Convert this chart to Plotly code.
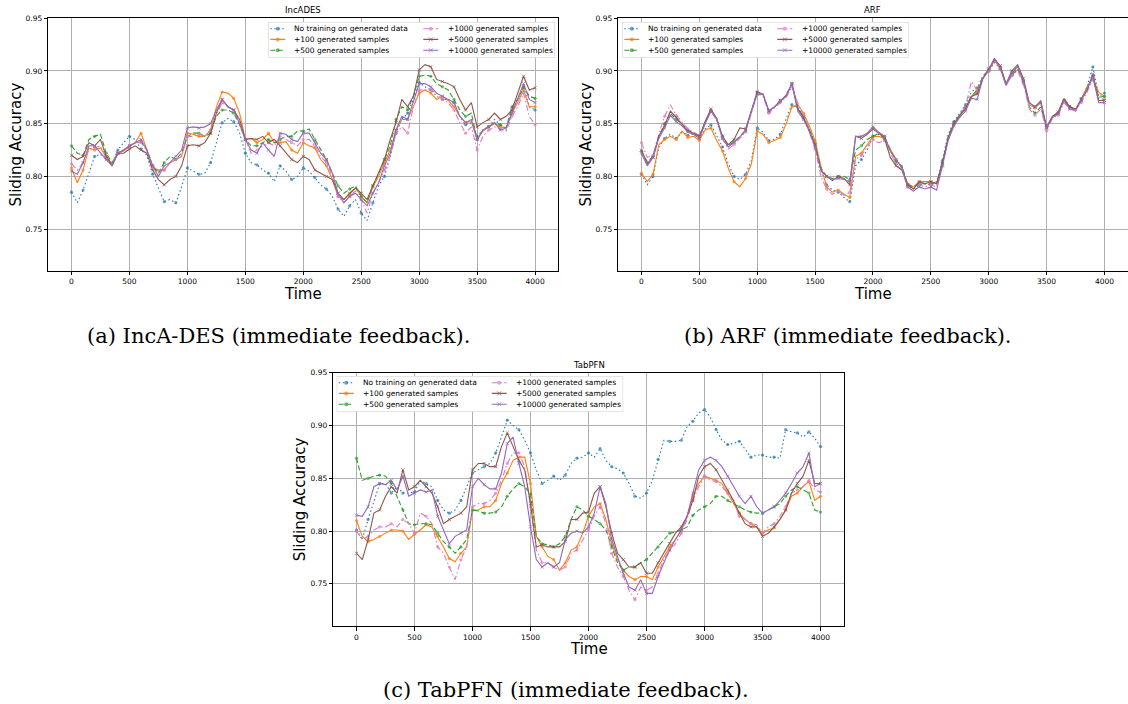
import plotly.graph_objects as go

# ---------------------------------------------------------------- data
TIME = list(range(0, 4001, 50))

SERIES_NAMES = [
    "No training on generated data",
    "+100 generated samples",
    "+500 generated samples",
    "+1000 generated samples",
    "+5000 generated samples",
    "+10000 generated samples",
]

# IncA-DES, sliding accuracy
INCADES_NO_TRAINING = [
    0.785, 0.775, 0.787, 0.803, 0.819, 0.821, 0.817, 0.812, 0.825, 0.832,
    0.838, 0.835, 0.826, 0.820, 0.802, 0.789, 0.776, 0.778, 0.775, 0.790,
    0.808, 0.805, 0.802, 0.803, 0.813, 0.832, 0.851, 0.855, 0.852, 0.841,
    0.822, 0.813, 0.811, 0.806, 0.803, 0.795, 0.810, 0.805, 0.797, 0.800,
    0.808, 0.805, 0.799, 0.792, 0.788, 0.781, 0.769, 0.762, 0.772, 0.778,
    0.765, 0.758, 0.775, 0.791, 0.800, 0.819, 0.841, 0.854, 0.860, 0.873,
    0.889, 0.885, 0.882, 0.876, 0.873, 0.873, 0.870, 0.857, 0.849, 0.851,
    0.838, 0.844, 0.847, 0.854, 0.849, 0.844, 0.863, 0.873, 0.885, 0.866,
    0.863,
]
INCADES_100 = [
    0.808, 0.794, 0.806, 0.827, 0.825, 0.827, 0.819, 0.812, 0.822, 0.824,
    0.828, 0.832, 0.841, 0.826, 0.810, 0.805, 0.806, 0.813, 0.816, 0.819,
    0.841, 0.840, 0.838, 0.838, 0.844, 0.866, 0.880, 0.879, 0.874, 0.860,
    0.835, 0.836, 0.832, 0.835, 0.841, 0.832, 0.832, 0.833, 0.825, 0.822,
    0.832, 0.829, 0.827, 0.816, 0.810, 0.797, 0.781, 0.778, 0.783, 0.789,
    0.781, 0.775, 0.790, 0.800, 0.813, 0.825, 0.844, 0.854, 0.854, 0.866,
    0.879, 0.882, 0.879, 0.873, 0.876, 0.872, 0.866, 0.857, 0.851, 0.852,
    0.835, 0.843, 0.847, 0.850, 0.847, 0.846, 0.860, 0.870, 0.882, 0.866,
    0.866,
]
INCADES_500 = [
    0.829, 0.822, 0.820, 0.835, 0.838, 0.840, 0.822, 0.813, 0.822, 0.825,
    0.829, 0.832, 0.833, 0.825, 0.810, 0.803, 0.813, 0.819, 0.816, 0.822,
    0.838, 0.841, 0.841, 0.838, 0.841, 0.857, 0.863, 0.863, 0.860, 0.849,
    0.835, 0.829, 0.829, 0.832, 0.835, 0.832, 0.835, 0.838, 0.838, 0.843,
    0.843, 0.845, 0.835, 0.825, 0.816, 0.803, 0.791, 0.784, 0.788, 0.791,
    0.781, 0.775, 0.791, 0.803, 0.816, 0.829, 0.854, 0.866, 0.863, 0.876,
    0.895, 0.896, 0.895, 0.888, 0.885, 0.882, 0.873, 0.863, 0.857, 0.860,
    0.835, 0.844, 0.847, 0.851, 0.849, 0.846, 0.866, 0.873, 0.885, 0.876,
    0.874,
]
INCADES_1000 = [
    0.812, 0.806, 0.813, 0.825, 0.827, 0.829, 0.817, 0.811, 0.822, 0.825,
    0.829, 0.832, 0.832, 0.825, 0.810, 0.806, 0.806, 0.813, 0.816, 0.819,
    0.838, 0.838, 0.840, 0.838, 0.844, 0.858, 0.870, 0.866, 0.863, 0.851,
    0.835, 0.822, 0.825, 0.829, 0.832, 0.829, 0.838, 0.835, 0.832, 0.829,
    0.835, 0.835, 0.829, 0.819, 0.813, 0.800, 0.781, 0.775, 0.781, 0.786,
    0.778, 0.765, 0.784, 0.794, 0.806, 0.819, 0.841, 0.847, 0.841, 0.866,
    0.882, 0.882, 0.882, 0.879, 0.873, 0.870, 0.863, 0.851, 0.841, 0.847,
    0.825, 0.838, 0.844, 0.847, 0.845, 0.843, 0.857, 0.866, 0.879, 0.857,
    0.849,
]
INCADES_5000 = [
    0.820, 0.816, 0.819, 0.832, 0.829, 0.835, 0.819, 0.810, 0.822, 0.822,
    0.826, 0.829, 0.825, 0.822, 0.806, 0.797, 0.792, 0.797, 0.800, 0.810,
    0.829, 0.830, 0.829, 0.832, 0.841, 0.860, 0.873, 0.866, 0.863, 0.854,
    0.835, 0.836, 0.835, 0.838, 0.832, 0.835, 0.829, 0.822, 0.816, 0.813,
    0.819, 0.816, 0.806, 0.803, 0.800, 0.797, 0.784, 0.778, 0.784, 0.789,
    0.784, 0.778, 0.791, 0.803, 0.816, 0.835, 0.851, 0.873, 0.866, 0.876,
    0.901, 0.906, 0.904, 0.892, 0.890, 0.888, 0.885, 0.873, 0.863, 0.870,
    0.847, 0.851, 0.854, 0.860, 0.854, 0.857, 0.863, 0.879, 0.895, 0.882,
    0.884,
]
INCADES_10000 = [
    0.805, 0.802, 0.813, 0.829, 0.829, 0.822, 0.816, 0.810, 0.822, 0.825,
    0.829, 0.832, 0.835, 0.825, 0.810, 0.800, 0.810, 0.813, 0.819, 0.825,
    0.846, 0.847, 0.846, 0.847, 0.850, 0.863, 0.873, 0.866, 0.863, 0.850,
    0.835, 0.825, 0.822, 0.832, 0.825, 0.819, 0.841, 0.840, 0.835, 0.833,
    0.841, 0.841, 0.832, 0.822, 0.816, 0.803, 0.784, 0.775, 0.781, 0.784,
    0.778, 0.772, 0.784, 0.794, 0.810, 0.822, 0.844, 0.857, 0.854, 0.870,
    0.888, 0.888, 0.885, 0.879, 0.876, 0.873, 0.870, 0.857, 0.851, 0.854,
    0.835, 0.844, 0.847, 0.851, 0.844, 0.846, 0.860, 0.873, 0.888, 0.873,
    0.870,
]

# ARF, sliding accuracy
ARF_NO_TRAINING = [
    0.802, 0.792, 0.800, 0.828, 0.836, 0.840, 0.836, 0.842, 0.839, 0.840,
    0.836, 0.845, 0.849, 0.838, 0.828, 0.812, 0.800, 0.797, 0.802, 0.815,
    0.846, 0.842, 0.834, 0.835, 0.840, 0.855, 0.868, 0.865, 0.858, 0.845,
    0.832, 0.806, 0.792, 0.787, 0.785, 0.780, 0.776, 0.810, 0.816, 0.825,
    0.838, 0.840, 0.836, 0.825, 0.815, 0.810, 0.792, 0.788, 0.792, 0.793,
    0.792, 0.795, 0.815, 0.840, 0.852, 0.860, 0.868, 0.880, 0.884, 0.895,
    0.900, 0.908, 0.902, 0.886, 0.896, 0.902, 0.890, 0.870, 0.866, 0.870,
    0.848, 0.856, 0.860, 0.874, 0.866, 0.862, 0.874, 0.885, 0.904, 0.876,
    0.879,
]
ARF_100 = [
    0.803, 0.795, 0.802, 0.830, 0.835, 0.838, 0.835, 0.843, 0.837, 0.838,
    0.834, 0.844, 0.846, 0.834, 0.824, 0.808, 0.795, 0.790, 0.798, 0.812,
    0.843, 0.840, 0.832, 0.834, 0.837, 0.850, 0.866, 0.868, 0.860, 0.848,
    0.834, 0.810, 0.790, 0.785, 0.787, 0.783, 0.780, 0.819, 0.822, 0.830,
    0.838, 0.838, 0.836, 0.826, 0.816, 0.808, 0.793, 0.790, 0.795, 0.795,
    0.795, 0.793, 0.812, 0.836, 0.850, 0.857, 0.866, 0.875, 0.880, 0.893,
    0.900, 0.910, 0.902, 0.887, 0.897, 0.904, 0.890, 0.868, 0.865, 0.870,
    0.846, 0.856, 0.860, 0.872, 0.866, 0.862, 0.873, 0.885, 0.893, 0.880,
    0.876,
]
ARF_500 = [
    0.824, 0.814, 0.819, 0.838, 0.850, 0.860, 0.854, 0.850, 0.844, 0.841,
    0.838, 0.851, 0.862, 0.854, 0.838, 0.829, 0.833, 0.838, 0.844, 0.862,
    0.880, 0.878, 0.862, 0.866, 0.872, 0.876, 0.888, 0.866, 0.855, 0.845,
    0.830, 0.808, 0.800, 0.798, 0.800, 0.800, 0.797, 0.825, 0.829, 0.835,
    0.838, 0.841, 0.838, 0.825, 0.814, 0.810, 0.792, 0.790, 0.793, 0.793,
    0.793, 0.793, 0.813, 0.838, 0.851, 0.858, 0.866, 0.876, 0.882, 0.895,
    0.901, 0.912, 0.903, 0.888, 0.896, 0.902, 0.890, 0.866, 0.860, 0.866,
    0.847, 0.857, 0.860, 0.873, 0.866, 0.863, 0.873, 0.882, 0.895, 0.875,
    0.876,
]
ARF_1000 = [
    0.832, 0.818, 0.820, 0.840, 0.857, 0.868, 0.858, 0.852, 0.845, 0.842,
    0.839, 0.850, 0.862, 0.855, 0.836, 0.826, 0.830, 0.836, 0.842, 0.860,
    0.878, 0.877, 0.860, 0.865, 0.870, 0.875, 0.885, 0.870, 0.858, 0.842,
    0.826, 0.800, 0.788, 0.783, 0.786, 0.782, 0.785, 0.816, 0.820, 0.828,
    0.835, 0.832, 0.834, 0.822, 0.812, 0.806, 0.790, 0.786, 0.792, 0.790,
    0.792, 0.790, 0.810, 0.836, 0.850, 0.858, 0.866, 0.890, 0.882, 0.893,
    0.900, 0.910, 0.903, 0.886, 0.896, 0.900, 0.888, 0.864, 0.858, 0.864,
    0.843, 0.855, 0.858, 0.870, 0.864, 0.862, 0.870, 0.880, 0.892, 0.874,
    0.873,
]
ARF_5000 = [
    0.825, 0.812, 0.818, 0.838, 0.848, 0.862, 0.856, 0.850, 0.843, 0.841,
    0.838, 0.852, 0.864, 0.855, 0.838, 0.830, 0.835, 0.846, 0.845, 0.862,
    0.880, 0.878, 0.862, 0.866, 0.872, 0.877, 0.888, 0.864, 0.856, 0.843,
    0.830, 0.806, 0.800, 0.796, 0.800, 0.798, 0.792, 0.838, 0.836, 0.840,
    0.845, 0.841, 0.836, 0.818, 0.810, 0.806, 0.792, 0.788, 0.795, 0.793,
    0.795, 0.793, 0.812, 0.837, 0.850, 0.858, 0.864, 0.876, 0.878, 0.893,
    0.902, 0.911, 0.905, 0.888, 0.900, 0.906, 0.893, 0.870, 0.866, 0.872,
    0.846, 0.857, 0.861, 0.874, 0.866, 0.864, 0.873, 0.882, 0.897, 0.872,
    0.872,
]
ARF_10000 = [
    0.822, 0.810, 0.818, 0.836, 0.846, 0.858, 0.852, 0.848, 0.842, 0.840,
    0.836, 0.850, 0.862, 0.854, 0.836, 0.828, 0.832, 0.838, 0.843, 0.862,
    0.878, 0.878, 0.862, 0.866, 0.872, 0.876, 0.888, 0.862, 0.854, 0.843,
    0.828, 0.806, 0.800, 0.797, 0.798, 0.797, 0.795, 0.838, 0.838, 0.841,
    0.847, 0.842, 0.838, 0.824, 0.816, 0.808, 0.790, 0.786, 0.790, 0.788,
    0.790, 0.787, 0.810, 0.834, 0.848, 0.856, 0.862, 0.874, 0.873, 0.893,
    0.901, 0.912, 0.903, 0.887, 0.898, 0.905, 0.890, 0.870, 0.866, 0.870,
    0.846, 0.856, 0.859, 0.872, 0.864, 0.863, 0.872, 0.884, 0.895, 0.870,
    0.870,
]

# TabPFN, sliding accuracy
TABPFN_NO_TRAINING = [
    0.801, 0.792, 0.811, 0.829, 0.845, 0.845, 0.836, 0.842, 0.836, 0.836,
    0.837, 0.848, 0.845, 0.842, 0.829, 0.820, 0.817, 0.820, 0.829, 0.842,
    0.855, 0.858, 0.861, 0.864, 0.874, 0.889, 0.905, 0.900, 0.896, 0.886,
    0.874, 0.858, 0.845, 0.848, 0.852, 0.848, 0.853, 0.864, 0.869, 0.870,
    0.874, 0.870, 0.878, 0.867, 0.861, 0.859, 0.855, 0.845, 0.833, 0.831,
    0.836, 0.848, 0.868, 0.886, 0.885, 0.885, 0.886, 0.899, 0.904, 0.912,
    0.915, 0.908, 0.896, 0.886, 0.882, 0.883, 0.885, 0.877, 0.870, 0.872,
    0.872, 0.870, 0.870, 0.869, 0.896, 0.894, 0.893, 0.889, 0.894, 0.888,
    0.880,
]
TABPFN_100 = [
    0.810, 0.795, 0.790, 0.792, 0.795, 0.798, 0.801, 0.801, 0.800, 0.792,
    0.797, 0.801, 0.806, 0.804, 0.795, 0.785, 0.774, 0.771, 0.779, 0.785,
    0.820, 0.820, 0.823, 0.823, 0.829, 0.845, 0.855, 0.867, 0.870, 0.870,
    0.845, 0.795, 0.785, 0.776, 0.773, 0.763, 0.770, 0.782, 0.785, 0.798,
    0.814, 0.823, 0.826, 0.811, 0.788, 0.773, 0.763, 0.757, 0.754, 0.757,
    0.757, 0.754, 0.766, 0.776, 0.785, 0.792, 0.801, 0.814, 0.833, 0.845,
    0.852, 0.850, 0.848, 0.845, 0.836, 0.826, 0.817, 0.811, 0.807, 0.804,
    0.798, 0.801, 0.803, 0.811, 0.820, 0.833, 0.836, 0.842, 0.847, 0.829,
    0.833,
]
TABPFN_500 = [
    0.869, 0.848, 0.850, 0.852, 0.853, 0.852, 0.845, 0.833, 0.820, 0.807,
    0.806, 0.807, 0.807, 0.806, 0.798, 0.790, 0.785, 0.779, 0.785, 0.792,
    0.820, 0.819, 0.817, 0.817, 0.818, 0.823, 0.833, 0.840, 0.845, 0.842,
    0.835, 0.795, 0.788, 0.787, 0.785, 0.788, 0.795, 0.811, 0.823, 0.820,
    0.814, 0.811, 0.807, 0.801, 0.785, 0.770, 0.763, 0.766, 0.766, 0.770,
    0.773, 0.779, 0.785, 0.792, 0.798, 0.799, 0.801, 0.804, 0.815, 0.820,
    0.823, 0.826, 0.833, 0.833, 0.829, 0.826, 0.823, 0.820, 0.818, 0.817,
    0.817, 0.820, 0.823, 0.826, 0.833, 0.839, 0.842, 0.839, 0.836, 0.820,
    0.818,
]
TABPFN_1000 = [
    0.800, 0.792, 0.795, 0.801, 0.804, 0.804, 0.807, 0.804, 0.811, 0.807,
    0.798, 0.817, 0.814, 0.807, 0.785, 0.779, 0.766, 0.754, 0.773, 0.785,
    0.823, 0.826, 0.826, 0.829, 0.836, 0.848, 0.864, 0.874, 0.874, 0.861,
    0.823, 0.782, 0.770, 0.770, 0.766, 0.763, 0.766, 0.779, 0.782, 0.792,
    0.801, 0.814, 0.823, 0.807, 0.779, 0.766, 0.757, 0.744, 0.735, 0.747,
    0.744, 0.747, 0.760, 0.773, 0.782, 0.788, 0.798, 0.811, 0.829, 0.842,
    0.852, 0.848, 0.847, 0.842, 0.836, 0.829, 0.814, 0.811, 0.807, 0.806,
    0.798, 0.804, 0.807, 0.814, 0.823, 0.836, 0.839, 0.842, 0.848, 0.839,
    0.837,
]
TABPFN_5000 = [
    0.779, 0.773, 0.792, 0.817, 0.820, 0.833, 0.842, 0.836, 0.858, 0.839,
    0.842, 0.848, 0.842, 0.836, 0.823, 0.807, 0.811, 0.814, 0.817, 0.823,
    0.858, 0.864, 0.864, 0.861, 0.861, 0.880, 0.893, 0.880, 0.867, 0.858,
    0.826, 0.785, 0.787, 0.785, 0.785, 0.785, 0.790, 0.811, 0.811, 0.817,
    0.818, 0.836, 0.842, 0.823, 0.798, 0.779, 0.773, 0.766, 0.766, 0.770,
    0.760, 0.760, 0.770, 0.779, 0.788, 0.798, 0.804, 0.814, 0.829, 0.852,
    0.861, 0.864, 0.858, 0.848, 0.839, 0.829, 0.817, 0.807, 0.804, 0.804,
    0.795, 0.798, 0.804, 0.811, 0.820, 0.836, 0.845, 0.852, 0.867, 0.845,
    0.845,
]
TABPFN_10000 = [
    0.815, 0.814, 0.823, 0.842, 0.845, 0.844, 0.848, 0.839, 0.852, 0.833,
    0.836, 0.839, 0.837, 0.839, 0.814, 0.801, 0.788, 0.795, 0.798, 0.801,
    0.842, 0.850, 0.844, 0.840, 0.840, 0.855, 0.883, 0.889, 0.864, 0.842,
    0.804, 0.773, 0.766, 0.770, 0.766, 0.770, 0.792, 0.798, 0.800, 0.798,
    0.804, 0.817, 0.842, 0.826, 0.792, 0.776, 0.760, 0.747, 0.744, 0.754,
    0.741, 0.741, 0.757, 0.770, 0.782, 0.792, 0.801, 0.814, 0.836, 0.858,
    0.867, 0.870, 0.867, 0.861, 0.852, 0.842, 0.833, 0.826, 0.833, 0.823,
    0.817, 0.820, 0.823, 0.829, 0.836, 0.845, 0.855, 0.861, 0.874, 0.842,
    0.845,
]

X_TICKS = [0, 500, 1000, 1500, 2000, 2500, 3000, 3500, 4000]
Y_TICKS = [0.75, 0.80, 0.85, 0.90, 0.95]

# ---------------------------------------------------------------- styles
W, H = 1128, 704
STYLES = [
    dict(color="#1f77b4", dash="1.5px,2.5px", symbol="circle", lw=0),
    dict(color="#ff7f0e", dash="solid", symbol="circle", lw=0),
    dict(color="#2ca02c", dash="5px,2.5px", symbol="circle", lw=0),
    dict(color="#e377c2", dash="6px,2.5px,1.5px,2.5px", symbol="circle", lw=0),
    dict(color="#8c564b", dash="solid", symbol="x-thin", lw=1),
    dict(color="#9467bd", dash="solid", symbol="x-thin", lw=1),
]

PANELS = [
    dict(title="IncADES",
         caption="(a) IncA-DES (immediate feedback).",
         series=[INCADES_NO_TRAINING, INCADES_100, INCADES_500,
                 INCADES_1000, INCADES_5000, INCADES_10000],
         box=(48.3, 18.3, 558.3, 270.7), ymin=0.7105,
         legend=(268.3, 22.0), caption_xy=(278, 336),
         ylabel_x=15, title_y=10.5, xlabel_y=294),
    dict(title="ARF",
         caption="(b) ARF (immediate feedback).",
         series=[ARF_NO_TRAINING, ARF_100, ARF_500,
                 ARF_1000, ARF_5000, ARF_10000],
         box=(618.3, 18.3, 1127.6, 270.7), ymin=0.7105,
         legend=(622.3, 22.0), caption_xy=(848, 336),
         ylabel_x=585, title_y=10.5, xlabel_y=294),
    dict(title="TabPFN",
         caption="(c) TabPFN (immediate feedback).",
         series=[TABPFN_NO_TRAINING, TABPFN_100, TABPFN_500,
                 TABPFN_1000, TABPFN_5000, TABPFN_10000],
         box=(333.3, 372.7, 843.7, 626.0), ymin=0.7101,
         legend=(336.7, 376.0), caption_xy=(566, 690),
         ylabel_x=300, title_y=365, xlabel_y=648.5),
]

LEG_W, LEG_H = 286.5, 35.5
LEG_ROWS = [6.7, 17.4, 28.3]
LEG_HANDLE_X = [2.0, 155.0]
LEG_TEXT_X = [24.0, 177.4]

FONT = "DejaVu Sans"
SERIF = "DejaVu Serif"


def px(xp):
    return xp / W


def py(yp):
    return 1 - yp / H


fig = go.Figure()
layout = dict(
    width=W, height=H, margin=dict(l=0, r=0, t=0, b=0),
    paper_bgcolor="white", plot_bgcolor="white",
    template="none", showlegend=False, hovermode=False,
    annotations=[],
)

for p_idx, panel in enumerate(PANELS):
    n = p_idx + 1
    xa = "x" if n == 1 else f"x{n}"
    ya = "y" if n == 1 else f"y{n}"
    x0, y0, x1, y1 = panel["box"]

    axis_common = dict(
        showline=True, linecolor="black", linewidth=1.1, mirror=True,
        ticks="outside", ticklen=3.5, tickwidth=0.9, tickcolor="black",
        showgrid=True, gridcolor="#b0b0b0", gridwidth=0.9, zeroline=False,
        tickfont=dict(family=FONT, size=7.5, color="black"), fixedrange=True,
    )
    layout["xaxis" if n == 1 else f"xaxis{n}"] = dict(
        axis_common, domain=[px(x0), px(x1)], range=[-200, 4200],
        tickvals=X_TICKS, anchor=ya,
    )
    layout["yaxis" if n == 1 else f"yaxis{n}"] = dict(
        axis_common, domain=[py(y1), py(y0)], range=[panel["ymin"], 0.95],
        tickvals=Y_TICKS, tickformat=".2f", anchor=xa,
    )

    for name, vals, st in zip(SERIES_NAMES, panel["series"], STYLES):
        sizes = [3.2 if i % 2 == 0 else 0 for i in range(len(vals))]
        fig.add_trace(go.Scatter(
            x=TIME[:len(vals)], y=vals, name=name, mode="lines+markers",
            line=dict(color=st["color"], width=1.1, dash=st["dash"]),
            marker=dict(symbol=st["symbol"], size=sizes, color=st["color"],
                        line=dict(width=st["lw"], color=st["color"])),
            xaxis=xa, yaxis=ya, showlegend=False,
        ))

    # legend panel on its own hidden axes, laid over the plot
    ln = n + 3
    lx, ly = panel["legend"]
    layout[f"xaxis{ln}"] = dict(domain=[px(lx), px(lx + LEG_W)], range=[0, LEG_W],
                                visible=False, fixedrange=True, anchor=f"y{ln}")
    layout[f"yaxis{ln}"] = dict(domain=[py(ly + LEG_H), py(ly)], range=[LEG_H, 0],
                                visible=False, fixedrange=True, anchor=f"x{ln}")
    fig.add_trace(go.Scatter(
        x=[0, LEG_W, LEG_W, 0, 0], y=[0, 0, LEG_H, LEG_H, 0],
        mode="lines", fill="toself", fillcolor="rgba(255,255,255,0.8)",
        line=dict(color="#cccccc", width=1), xaxis=f"x{ln}", yaxis=f"y{ln}",
        showlegend=False,
    ))
    for k, (name, st) in enumerate(zip(SERIES_NAMES, STYLES)):
        col, row = divmod(k, 3)
        hx = LEG_HANDLE_X[col]
        ry = LEG_ROWS[row]
        fig.add_trace(go.Scatter(
            x=[hx, hx + 7.5, hx + 15], y=[ry, ry, ry], mode="lines+markers",
            line=dict(color=st["color"], width=1.1, dash=st["dash"]),
            marker=dict(symbol=st["symbol"], size=[0, 4, 0], color=st["color"],
                        line=dict(width=st["lw"], color=st["color"])),
            xaxis=f"x{ln}", yaxis=f"y{ln}", showlegend=False,
        ))
        layout["annotations"].append(dict(
            x=LEG_TEXT_X[col], y=ry, xref=f"x{ln}", yref=f"y{ln}",
            text=name, showarrow=False, xanchor="left", yanchor="middle",
            font=dict(family=FONT, size=7.5, color="black"),
        ))

    cx = (x0 + x1) / 2
    cy = (y0 + y1) / 2
    layout["annotations"] += [
        dict(x=px(cx), y=py(panel["title_y"]), xref="paper", yref="paper",
             text=panel["title"], showarrow=False, xanchor="center", yanchor="middle",
             font=dict(family=FONT, size=8.5, color="black")),
        dict(x=px(cx), y=py(panel["xlabel_y"]), xref="paper", yref="paper",
             text="Time", showarrow=False, xanchor="center", yanchor="middle",
             font=dict(family=FONT, size=15, color="black")),
        dict(x=px(panel["ylabel_x"]), y=py(cy), xref="paper", yref="paper",
             text="Sliding Accuracy", textangle=-90, showarrow=False,
             xanchor="center", yanchor="middle",
             font=dict(family=FONT, size=15, color="black")),
        dict(x=px(panel["caption_xy"][0]), y=py(panel["caption_xy"][1]),
             xref="paper", yref="paper", text=panel["caption"], showarrow=False,
             xanchor="center", yanchor="middle",
             font=dict(family=SERIF, size=21, color="black")),
    ]

fig.update_layout(**layout)
fig.write_html("out.html")
